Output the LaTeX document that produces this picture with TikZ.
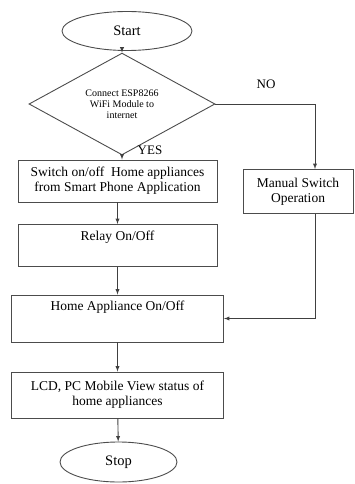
\documentclass[tikz,border=0pt]{standalone}
\usepackage{fontspec}
\setmainfont{Liberation Serif}
\usetikzlibrary{shapes,arrows}
\usepackage{xcolor}

\begin{document}
\begin{tikzpicture}[x=1pt, y=-1pt]
            \tikzstyle{terminal} = [ellipse, draw=black!70, line width=0.9pt, inner sep=0pt, font=\fontsize{14.5}{16}\selectfont]
            \tikzstyle{decision} = [diamond, draw=black!70, line width=0.9pt, inner sep=0pt, minimum width=186pt, minimum height=69pt, align=center, font=\fontsize{10}{11}\selectfont]
            \tikzstyle{process} = [rectangle, draw=black!70, line width=0.9pt, inner sep=0pt, align=center, font=\fontsize{13.5}{15}\selectfont]
            \tikzstyle{flow} = [-latex, line width=0.9pt, draw=black!75]
            \tikzstyle{answer} = [font=\fontsize{13}{15}\selectfont]
            \useasboundingbox (0, 0) rectangle (354, 484);
            \node[terminal, minimum width=130pt, minimum height=39pt] (start) at (127, 31) {Start};
            \node[decision] (connect) at (122, 104) {Connect ESP8266\\WiFi Module to\\internet};
            \node[process, minimum width=199pt, minimum height=42pt] (app) at (117.5, 181) {Switch on/off\ \ Home appliances\\from Smart Phone Application};
            \node[process, minimum width=110pt, minimum height=44pt] (manual) at (298, 191.5) {Manual Switch\\Operation};
            \node[process, minimum width=199pt, minimum height=42pt, label={[anchor=north, yshift=-3pt, font=\fontsize{13.5}{15}\selectfont]north:Relay On/Off}] (relay) at (117.5, 245.5) {};
            \node[process, minimum width=212pt, minimum height=47pt, label={[anchor=north, yshift=-3pt, font=\fontsize{13.5}{15}\selectfont]north:Home Appliance On/Off}] (home) at (117.5, 318.5) {};
            \node[process, minimum width=212pt, minimum height=46pt] (status) at (117.5, 395) {LCD, PC Mobile View status of\\home appliances};
            \node[terminal, minimum width=117pt, minimum height=40pt] (stop) at (118.5, 462) {Stop};
            \node[answer] (no) at (266, 84) {NO};
            \node[answer] (yes) at (150, 150) {YES};
            \draw[flow] (start.south -| connect.north) -- (connect.north);
            \draw[flow] (connect.south) -- (connect.south |- app.north);
            \draw[flow] (connect.east) -| ([xshift=17pt]manual.north);
            \draw[flow] (app) -- (relay);
            \draw[flow] (relay) -- (home);
            \draw[flow] ([xshift=17pt]manual.south) |- (home.east);
            \draw[flow] (home) -- (status);
            \draw[flow] (status) -- (stop);
        \end{tikzpicture}
\end{document}
